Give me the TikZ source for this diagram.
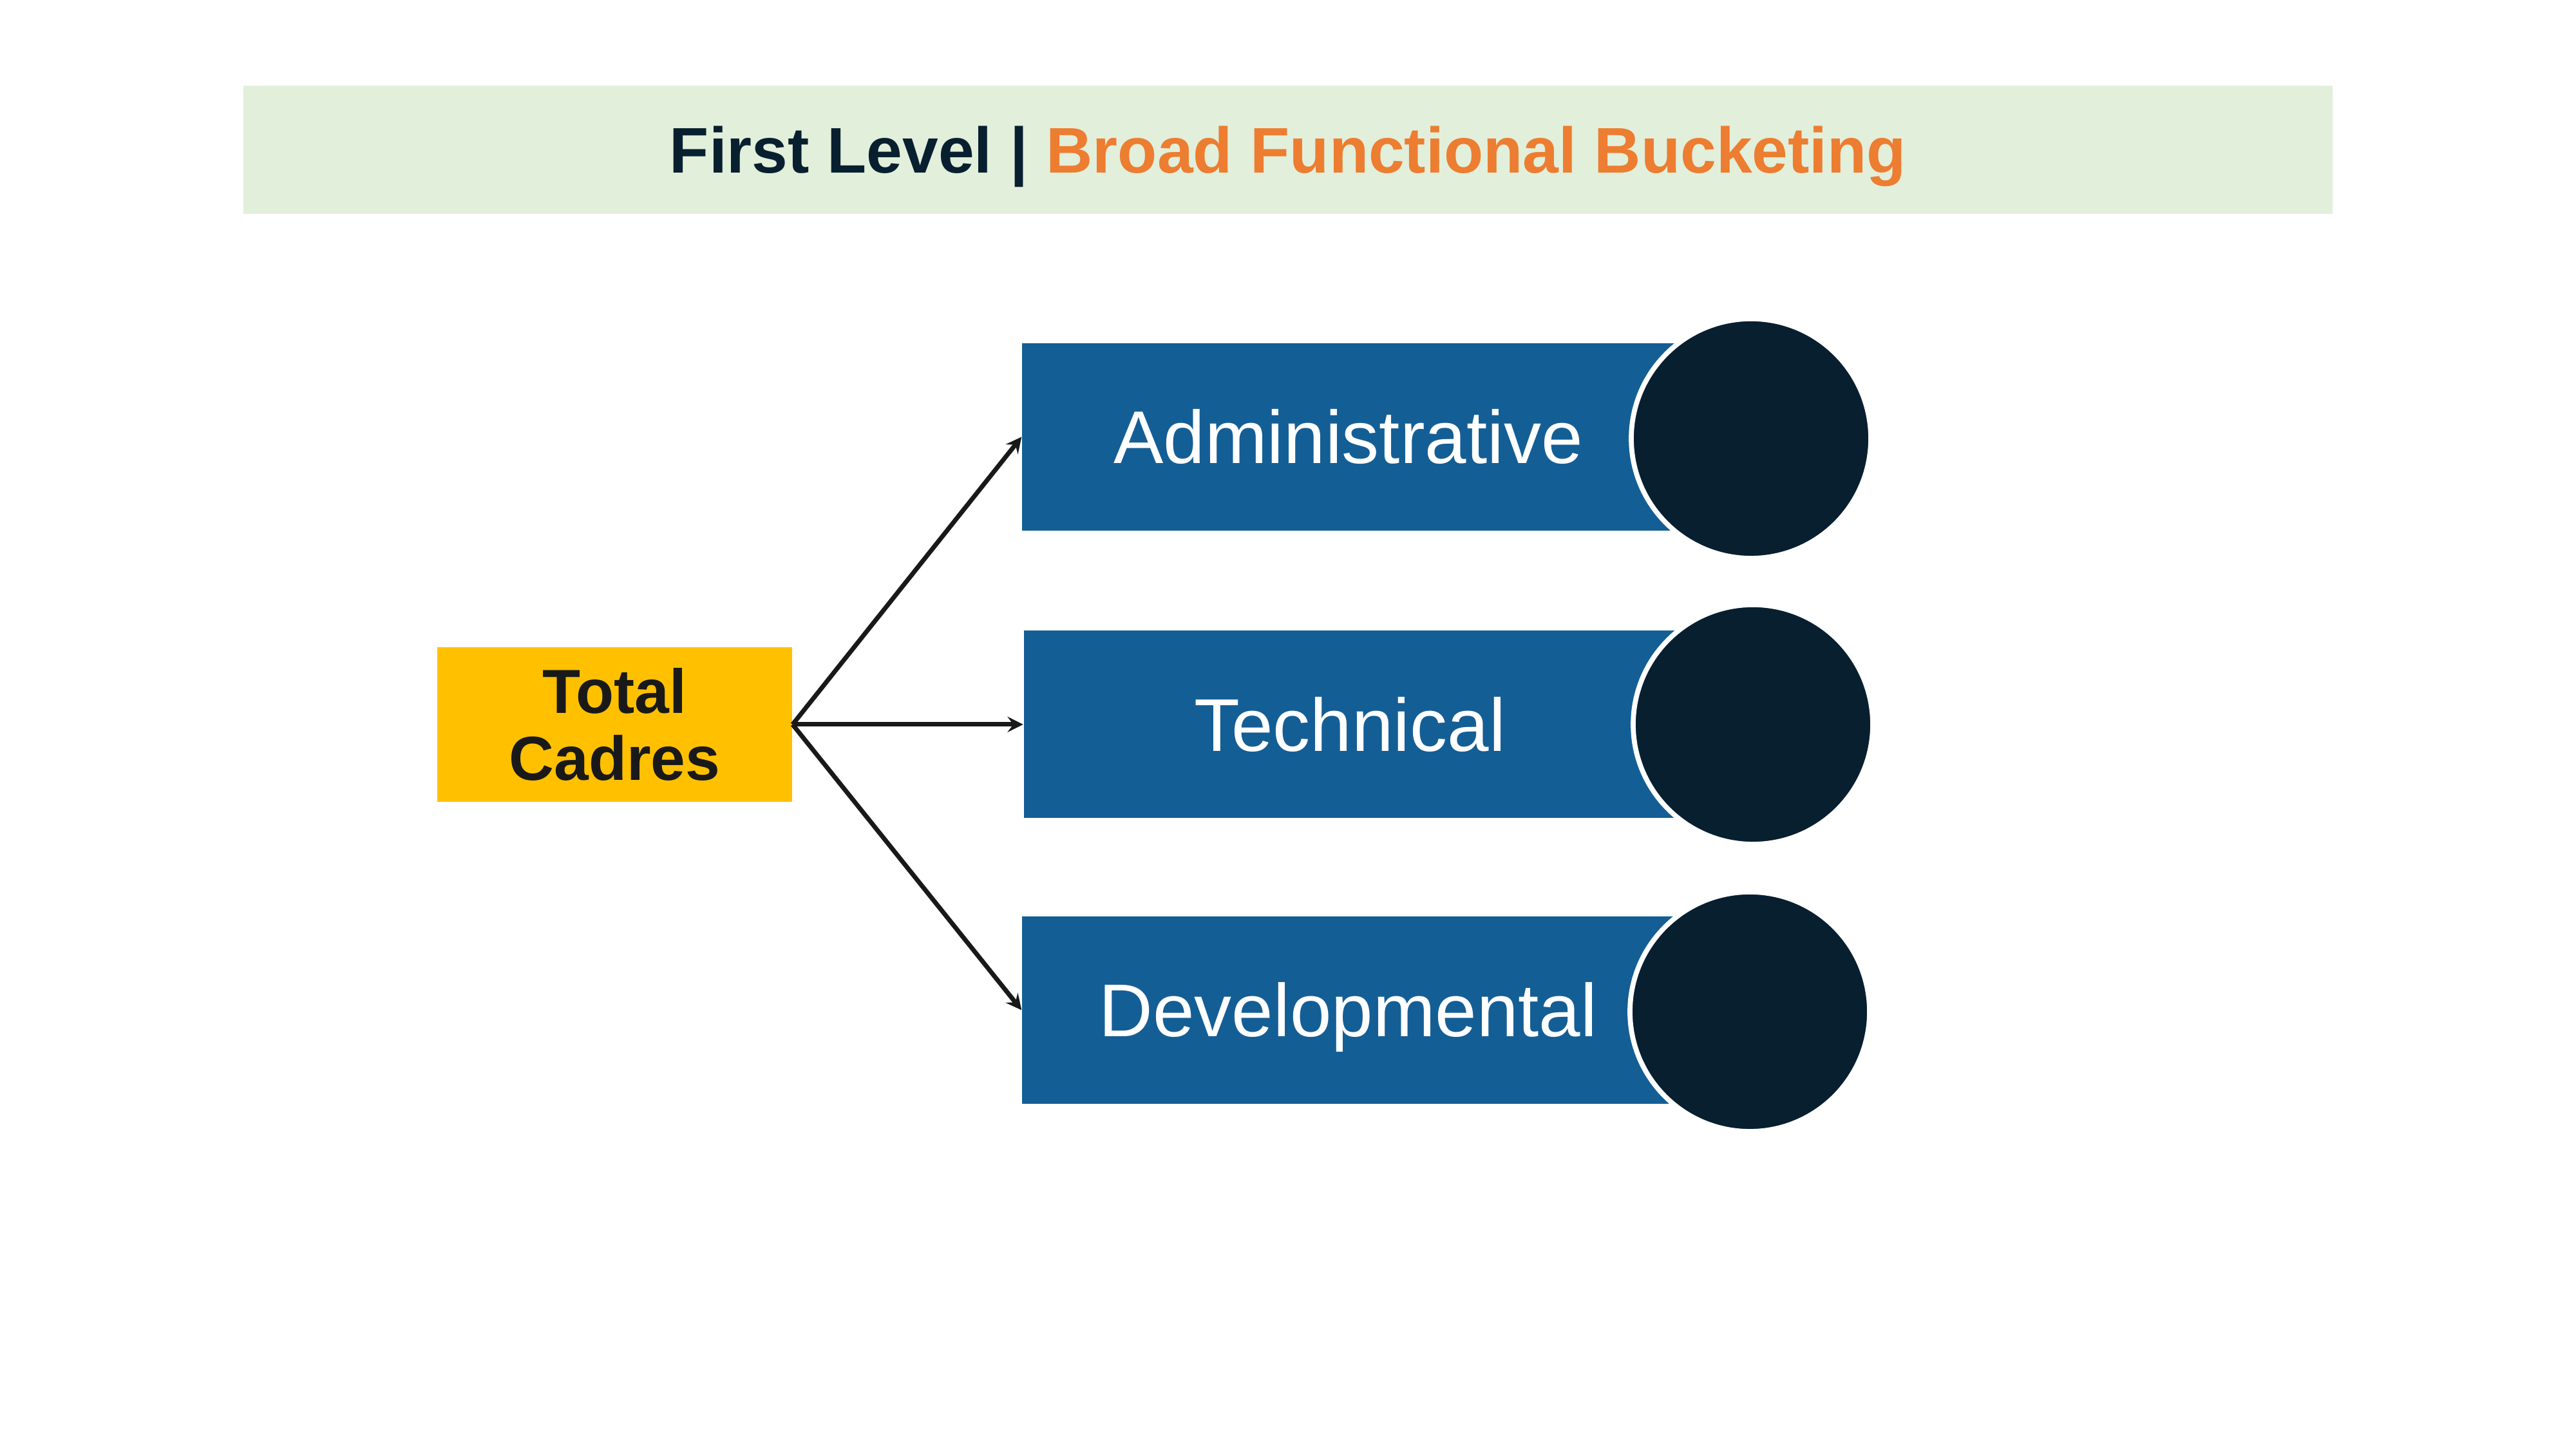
\documentclass[tikz,border=0pt]{standalone}
\usepackage{fontspec}
\setmainfont{Liberation Sans}
\usetikzlibrary{shapes,arrows}
\definecolor{bannergreen}{RGB}{226,239,218}
\definecolor{titlenavy}{RGB}{8,31,48}
\definecolor{titleorange}{RGB}{237,125,49}
\definecolor{cadreyellow}{RGB}{255,192,0}
\definecolor{bucketblue}{RGB}{20,94,150}
\tikzset{
	banner/.style={rectangle, fill=bannergreen, minimum width=32.44cm, minimum height=1.99cm, inner sep=0pt},
	cadrebox/.style={rectangle, fill=cadreyellow, minimum width=5.51cm, minimum height=2.40cm, inner sep=0pt},
	bucket/.style={rectangle, fill=bucketblue, text=white, minimum width=10.13cm, minimum height=2.91cm, inner sep=0pt, text height=23.6pt, text depth=0pt, font=\fontsize{33}{40}\selectfont},
	bucketdot/.style={circle, fill=titlenavy, draw=white, line width=2.2pt, minimum size=3.72cm, inner sep=0pt},
	link/.style={->, >=stealth, line width=2pt, draw=black!90}
}
\begin{document}
\begin{tikzpicture}
		\useasboundingbox (0,0) rectangle (40,22.5);
		\node[banner] (Banner) at (20,20.175) {};
		\node[text height=20.4pt, text depth=0pt, font=\bfseries\fontsize{28.5}{34}\selectfont, text=titlenavy] (Title) at (Banner.center) {First Level | \textcolor{titleorange}{Broad Functional Bucketing}};
		\node[cadrebox] (TotalCadres) at (9.545,11.25) {};
		\node[align=center, font=\bfseries\fontsize{27.5}{29.6}\selectfont, text=black!90] (TotalText) at (TotalCadres.center) {Total\\Cadres};
		\node[bucket] (Administrative) at (20.935,15.715) {Administrative};
		\node[bucketdot] (AdministrativeDot) at (27.19,15.69) {};
		\node[bucket] (Technical) at (20.96,11.25) {Technical};
		\node[bucketdot] (TechnicalDot) at (27.22,11.25) {};
		\node[bucket] (Developmental) at (20.935,6.815) {Developmental};
		\node[bucketdot] (DevelopmentalDot) at (27.17,6.79) {};
		\draw[link] (TotalCadres.east) -- (Administrative.west);
		\draw[link] (TotalCadres.east) -- (Technical.west);
		\draw[link] (TotalCadres.east) -- (Developmental.west);
\end{tikzpicture}
\end{document}
